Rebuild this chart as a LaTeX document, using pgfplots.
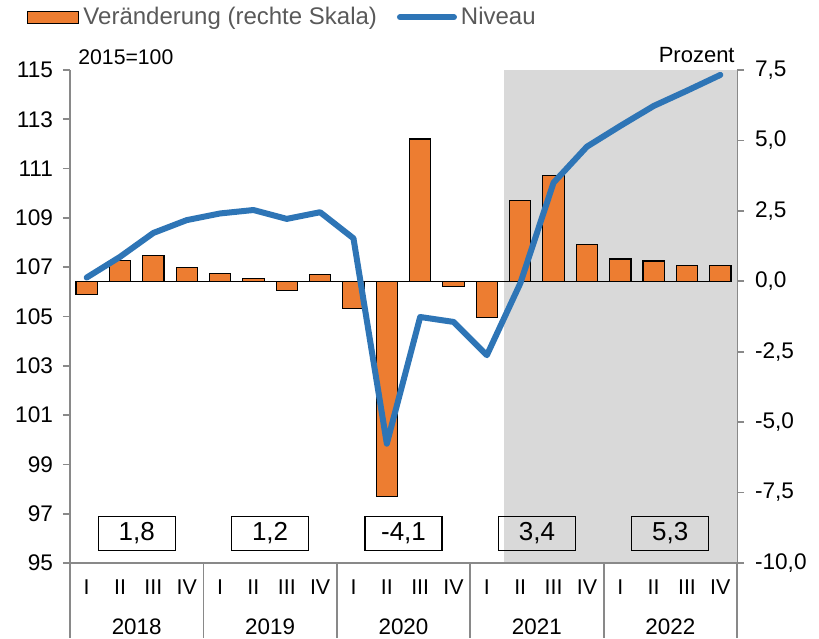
\documentclass[border=0pt]{standalone}
\usepackage{fontspec}
\setmainfont{Liberation Sans}
\usepackage{pgfplots}
\usepackage{pgfplotstable}
\pgfplotsset{compat=1.18}
\definecolor{barorange}{HTML}{ED7D31}
\definecolor{lineblue}{HTML}{2E75B6}
\definecolor{shadegray}{HTML}{D9D9D9}
\definecolor{axgray}{HTML}{898989}
\definecolor{legtext}{HTML}{595959}

\pgfplotstableread{
q val
0 -0.47
1 0.75
2 0.91
3 0.49
4 0.27
5 0.10
6 -0.33
7 0.25
8 -0.97
9 -7.63
10 5.05
11 -0.17
12 -1.27
13 2.86
14 3.77
15 1.30
16 0.79
17 0.72
18 0.57
19 0.57
}\bars

\pgfplotstableread{
q val
0 106.58
1 107.42
2 108.39
3 108.91
4 109.18
5 109.32
6 108.96
7 109.23
8 108.17
9 99.84
10 104.98
11 104.78
12 103.43
13 106.34
14 110.43
15 111.89
16 112.73
17 113.54
18 114.16
19 114.80
}\niveau

\tikzset{yearsep/.style={axgray, line width=0.9pt},
  yearlab/.style={font=\fontsize{11.2}{13}\selectfont},
  annbox/.style={draw=black, line width=0.6pt, minimum width=38.5pt, minimum height=17pt, inner sep=0pt,
    font=\fontsize{13}{14}\selectfont}}

\begin{document}
\begin{tikzpicture}[x=1pt,y=1pt]
\useasboundingbox (0,0) rectangle (409.5,319);
% right axis with bars
\begin{axis}[
  at={(35pt,37.5pt)}, anchor=south west,
  scale only axis, width=333.5pt, height=246.5pt,
  xmin=-0.5, xmax=19.5, ymin=-10, ymax=7.5,
  axis x line=none, axis y line*=right,
  y axis line style={axgray, line width=0.9pt, -},
  ytick={-10,-7.5,-5,-2.5,0,2.5,5,7.5},
  tick align=outside, major tick length=3.5pt,
  ytick style={axgray, line width=0.9pt},
  yticklabel style={font=\fontsize{11.3}{12}\selectfont, anchor=west, xshift=2pt},
  /pgf/number format/assume math mode=true,
  /pgf/number format/.cd, fixed, fixed zerofill, precision=1, use comma,
  /pgfplots/.cd,
  clip=false,
]
\fill[shadegray] (axis cs:12.5,-10) rectangle (axis cs:19.5,7.5);
\addplot[ybar, bar width=0.64, fill=barorange, draw=black, line width=0.55pt] table[x=q,y=val]{\bars};
\draw[black, line width=0.6pt] (axis cs:-0.32,0) -- (axis cs:19.32,0);
\end{axis}
% left axis with line
\begin{axis}[
  at={(35pt,37.5pt)}, anchor=south west,
  scale only axis, width=333.5pt, height=246.5pt,
  xmin=-0.5, xmax=19.5, ymin=95, ymax=115,
  axis x line*=bottom, axis y line*=left,
  axis line style={axgray, line width=0.9pt, -},
  ytick={95,97,...,115},
  xtick={0,...,19},
  xticklabels={I,II,III,IV,I,II,III,IV,I,II,III,IV,I,II,III,IV,I,II,III,IV},
  tick align=outside,
  major tick length=3.5pt,
  xtick style={draw=none},
  ytick style={axgray, line width=0.9pt},
  yticklabel style={font=\fontsize{11.3}{12}\selectfont, anchor=east, xshift=-1.5pt},
  xticklabel style={font=\fontsize{10.7}{12}\selectfont, anchor=center, yshift=-8.5pt},
  /pgf/number format/assume math mode=true,
  clip=false,
  legend columns=2,
  legend style={at={(-0.0645,1.107)}, anchor=west, draw=none, fill=none,
    inner sep=0pt, font=\fontsize{12}{14}\selectfont\color{legtext},
    /tikz/every even column/.append style={column sep=8pt}},
  legend cell align=left,
]
\addlegendimage{legend image code/.code={\draw[fill=barorange,draw=black,line width=0.55pt] (0pt,-3pt) rectangle (25.5pt,3pt);}}
\addlegendentry{Veränderung (rechte Skala)}
\addplot[lineblue, line width=3pt, line cap=round, line join=round,
  legend image code/.code={\draw[lineblue, line width=3pt, line cap=round] (0pt,0pt) -- (27pt,0pt);}]
  table[x=q,y=val]{\niveau};
\addlegendentry{Niveau}
% year separators
\draw[yearsep] (axis cs:-0.5,95) -- ++(0pt,-37.5pt);
\draw[yearsep] (axis cs:3.5,95) -- ++(0pt,-37.5pt);
\draw[yearsep] (axis cs:7.5,95) -- ++(0pt,-37.5pt);
\draw[yearsep] (axis cs:11.5,95) -- ++(0pt,-37.5pt);
\draw[yearsep] (axis cs:15.5,95) -- ++(0pt,-37.5pt);
\draw[yearsep] (axis cs:19.5,95) -- ++(0pt,-37.5pt);
% year labels
\node[yearlab] at ([yshift=-32pt]axis cs:1.5,95) {2018};
\node[yearlab] at ([yshift=-32pt]axis cs:5.5,95) {2019};
\node[yearlab] at ([yshift=-32pt]axis cs:9.5,95) {2020};
\node[yearlab] at ([yshift=-32pt]axis cs:13.5,95) {2021};
\node[yearlab] at ([yshift=-32pt]axis cs:17.5,95) {2022};
% annual boxes
\node[annbox] at (axis cs:1.5,96.21) {1,8};
\node[annbox] at (axis cs:5.5,96.21) {1,2};
\node[annbox] at (axis cs:9.5,96.21) {-4,1};
\node[annbox] at (axis cs:13.5,96.21) {3,4};
\node[annbox] at (axis cs:17.5,96.21) {5,3};
\end{axis}
\node[anchor=base west, font=\fontsize{10.6}{12}\selectfont, inner sep=0pt] at (39pt,286.5pt) {2015=100};
\node[anchor=base east, font=\fontsize{11}{12}\selectfont, inner sep=0pt] at (367.5pt,287.5pt) {Prozent};
\end{tikzpicture}
\end{document}
